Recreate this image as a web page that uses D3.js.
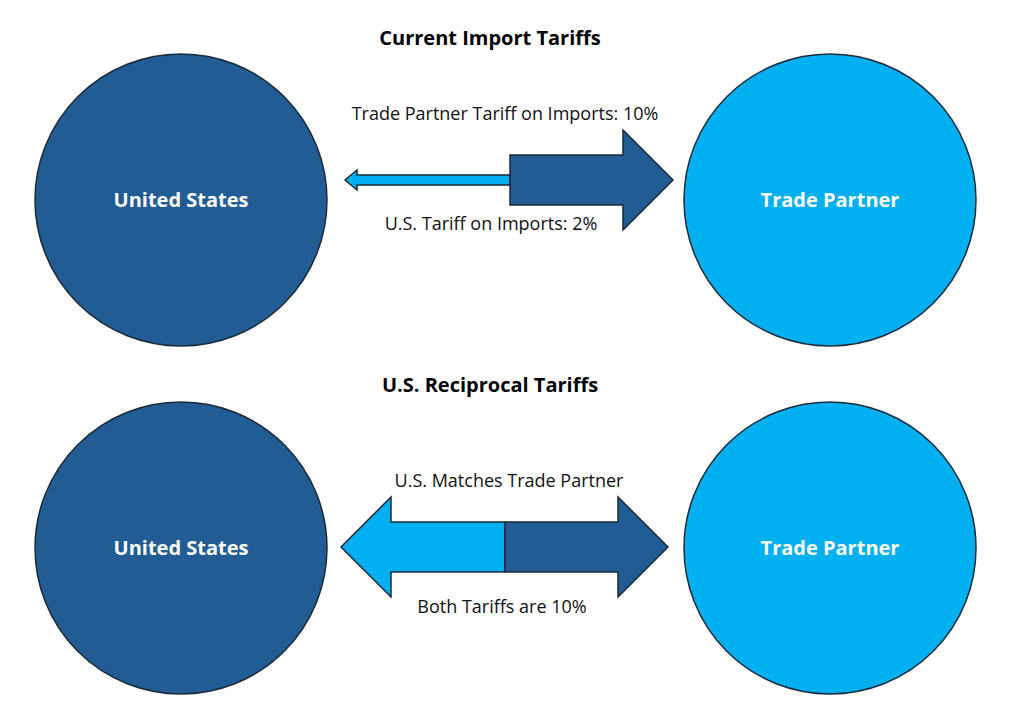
<!DOCTYPE html>
<html><head><meta charset="utf-8">
<script src="https://cdn.jsdelivr.net/npm/d3@7"></script>
<style>body{margin:0;background:#fff}text{font-family:"Open Sans","Noto Sans",sans-serif}</style>
</head><body>
<svg width="1013" height="713"></svg>
<script>
const titles = ["Current Import Tariffs", "U.S. Reciprocal Tariffs"];
const countries = ["United States", "Trade Partner"];
const usTariff = [2, 10];       // % U.S. charges on imports
const partnerTariff = [10, 10]; // % trade partner charges
const topLabels = ["Trade Partner Tariff on Imports: 10%", "U.S. Matches Trade Partner"];
const bottomLabels = ["U.S. Tariff on Imports: 2%", "Both Tariffs are 10%"];

const dark = "#215c94", light = "#00b0f0";
const svg = d3.select("svg");

const panelY = d3.scaleBand().domain([0, 1]).range([20, 713]);
const circleX = d3.scalePoint().domain(countries).range([181, 830]);
const thick = d3.scaleLinear().domain([0, 10]).range([0, 50]); // shaft thickness per %
const r = 146;

titles.forEach((t, i) => {
  const y0 = panelY(i);
  const cy = i === 0 ? 200 : 548;
  const ay = i === 0 ? 180 : 547;
  const mid = i === 0 ? 510 : 505;

  svg.append("text").attr("x", 490).attr("y", y0 + 25).attr("text-anchor", "middle")
    .attr("font-size", 20).attr("font-weight", "bold").text(t);

  countries.forEach((c, j) => {
    svg.append("circle").attr("cx", circleX(c)).attr("cy", cy).attr("r", r)
      .attr("fill", j === 0 ? dark : light).attr("stroke", "#1a2a3a").attr("stroke-width", 1.5);
    svg.append("text").attr("x", circleX(c)).attr("y", cy + 7).attr("text-anchor", "middle")
      .attr("fill", "#fff").attr("font-size", 20).attr("font-weight", "bold").text(c);
  });

  // left arrow: U.S. tariff (light), points to U.S.
  const hl = thick(usTariff[i]) / 2, tipL = i === 0 ? 345 : 341;
  const headL = Math.max(12, hl * 2);
  svg.append("path").attr("d", d3.line()([
    [mid, ay - hl], [tipL + headL, ay - hl], [tipL + headL, ay - hl * 2], [tipL, ay],
    [tipL + headL, ay + hl * 2], [tipL + headL, ay + hl], [mid, ay + hl]]) + "Z")
    .attr("fill", light).attr("stroke", "#1a2a3a").attr("stroke-width", 1.5);

  // right arrow: partner tariff (dark), points to partner
  const hr = thick(partnerTariff[i]) / 2, tipR = i === 0 ? 673 : 668;
  const headR = hr * 2;
  svg.append("path").attr("d", d3.line()([
    [mid, ay - hr], [tipR - headR, ay - hr], [tipR - headR, ay - hr * 2], [tipR, ay],
    [tipR - headR, ay + hr * 2], [tipR - headR, ay + hr], [mid, ay + hr]]) + "Z")
    .attr("fill", dark).attr("stroke", "#1a2a3a").attr("stroke-width", 1.5);

  svg.append("text").attr("x", i === 0 ? 505 : 509).attr("y", i === 0 ? 120 : 487).attr("text-anchor", "middle")
    .attr("font-size", 18).attr("fill", "#111").text(topLabels[i]);
  svg.append("text").attr("x", i === 0 ? 491 : 502).attr("y", i === 0 ? 230 : 613).attr("text-anchor", "middle")
    .attr("font-size", 18).attr("fill", "#111").text(bottomLabels[i]);
});
</script>
</body></html>
